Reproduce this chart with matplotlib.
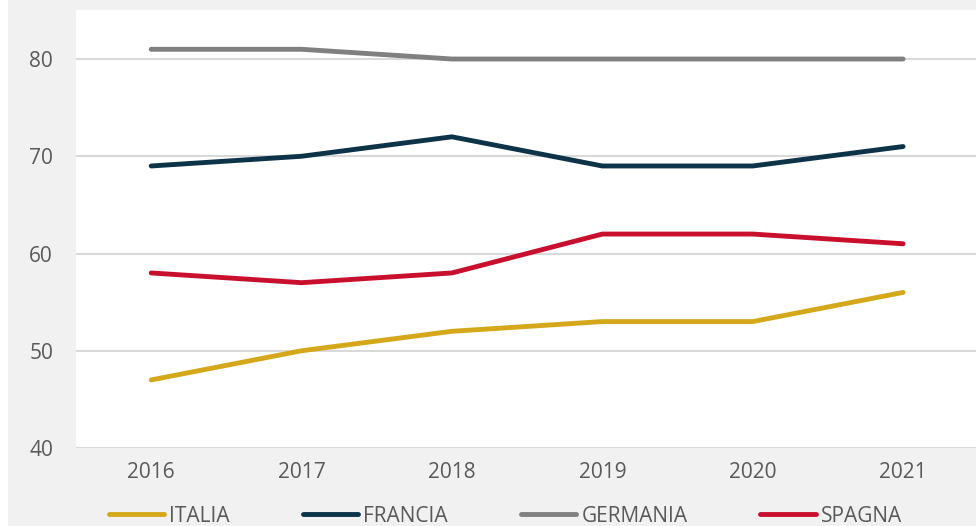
import matplotlib
matplotlib.use("Agg")
import matplotlib.pyplot as plt
from matplotlib.patches import Rectangle

years = ["2016", "2017", "2018", "2019", "2020", "2021"]
italia = [47, 50, 52, 53, 53, 56]
francia = [69, 70, 72, 69, 69, 71]
germania = [81, 81, 80, 80, 80, 80]
spagna = [58, 57, 58, 62, 62, 61]

series = [
    ("ITALIA", italia, "#D4A81A"),
    ("FRANCIA", francia, "#0D3349"),
    ("GERMANIA", germania, "#808080"),
    ("SPAGNA", spagna, "#C8102E"),
]

plt.rcParams["font.family"] = ["Open Sans", "DejaVu Sans"]

fig = plt.figure(figsize=(9.76, 5.26), dpi=100, facecolor="#f1f1f1")
fig.patches.append(Rectangle((0, 0), 8 / 976, 1, transform=fig.transFigure,
                             facecolor="white", edgecolor="none"))
ax = fig.add_axes([76 / 976, 78 / 526, 900 / 976, 438 / 526])
ax.set_facecolor("white")

x = range(len(years))
for name, vals, col in series:
    ax.plot(x, vals, color=col, lw=3.5, solid_capstyle="round",
            solid_joinstyle="round", label=name, zorder=3)

ax.set_xlim(-0.5, 5.485)
ax.set_ylim(40, 85.04)
ax.set_yticks([40, 50, 60, 70, 80])
ax.set_xticks(list(x))
ax.set_xticklabels(years)
ax.grid(axis="y", color="#d9d9d9", lw=1.5, zorder=1)
for s in ax.spines.values():
    s.set_visible(False)
ax.tick_params(axis="both", length=0, labelsize=15, labelcolor="#595959")
ax.tick_params(axis="y", pad=16.5)
ax.tick_params(axis="x", pad=10)

handles, labels = ax.get_legend_handles_labels()
leg = fig.legend(handles, labels, loc="center", bbox_to_anchor=(0.518, 0.019),
                 ncol=4, frameon=False, fontsize=15, handlelength=2.65,
                 handletextpad=0.25, columnspacing=3.5, labelcolor="#595959")

fig.savefig("out.png", dpi=100, facecolor=fig.get_facecolor())
